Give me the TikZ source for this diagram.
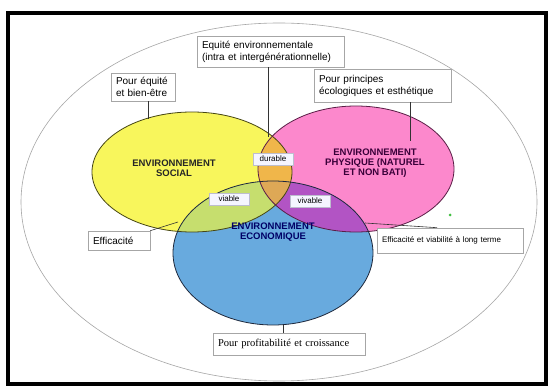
\documentclass[tikz,border=0pt]{standalone}
\usepackage{fontspec}
\setmainfont{Liberation Sans}
\newfontfamily\serifbox{Liberation Serif}
\usetikzlibrary{calc}

\definecolor{jaune}{RGB}{248,246,92}
\definecolor{rose}{RGB}{252,136,204}
\definecolor{bleu}{RGB}{104,170,222}
\definecolor{orangeI}{RGB}{240,182,74}
\definecolor{vertI}{RGB}{198,222,110}
\definecolor{violetI}{RGB}{178,84,196}
\definecolor{centreI}{RGB}{222,168,86}
\definecolor{bordS}{RGB}{70,70,20}
\definecolor{bordP}{RGB}{90,30,70}
\definecolor{bordE}{RGB}{30,40,60}

\newcommand\ensocial{(192,172) ellipse [x radius=100, y radius=60]}
\newcommand\enphys{(356,169) ellipse [x radius=98, y radius=63]}
\newcommand\eneco{(273,253) ellipse [x radius=100, y radius=72]}

\tikzset{
  boite/.style={draw=gray!70, fill=white, line width=0.6, inner xsep=5, inner ysep=3,
    align=left, font=\fontsize{10}{12}\selectfont},
  etiq/.style={draw=blue!15!gray!45, fill=blue!4, inner sep=1.5, minimum width=40,
    minimum height=12, font=\fontsize{8}{9}\selectfont},
  titre/.style={align=center, font=\fontsize{9.5}{10}\selectfont\bfseries},
  trait/.style={draw=black!80, line width=0.6},
}

\begin{document}
\begin{tikzpicture}[x=1pt,y=-1pt]
\useasboundingbox (0,0) rectangle (552,390);
\fill[white] (0,0) rectangle (552,390);
% cadre et grande ellipse
\draw[line width=4] (8,13) rectangle (546,384);
\draw[gray!70, line width=0.6] (279,202) ellipse [x radius=258, y radius=179];

% les trois environnements
\fill[jaune] \ensocial;
\fill[rose] \enphys;
\fill[bleu] \eneco;
\begin{scope}
  \clip \ensocial;
  \fill[orangeI] \enphys;
  \fill[vertI] \eneco;
\end{scope}
\begin{scope}
  \clip \enphys;
  \fill[violetI] \eneco;
\end{scope}
\begin{scope}
  \clip \ensocial;
  \clip \enphys;
  \fill[centreI] \eneco;
\end{scope}
\draw[bordS, line width=0.8] \ensocial;
\draw[bordP, line width=0.8] \enphys;
\draw[bordE, line width=0.8] \eneco;
\fill[green!50!gray] (450,215) circle [radius=1.5];

\node[titre, text=black!85] (social) at (174,168) {ENVIRONNEMENT\\SOCIAL};
\node[titre, text=violet!45!black] (physique) at (375,163)
  {ENVIRONNEMENT\\PHYSIQUE (NATUREL\\ET NON BATI)};
\node[titre, text=blue!40!black] (economique) at (273,232) {ENVIRONNEMENT\\ECONOMIQUE};

\node[etiq] (durable) at (273,159) {durable};
\node[etiq] (viable) at (229,199) {viable};
\node[etiq] (vivable) at (310,201) {vivable};

% boites
\node[boite, text width=137, minimum height=31] (equite) at (270.5,51.5)
  {Equité environnementale\\(intra et intergénérationnelle)};
\node[boite, text width=54, minimum height=28] (bienetre) at (143,87)
  {Pour équité\\et bien-être};
\node[boite, text width=127, minimum height=33] (principes) at (382.5,85.5)
  {Pour principes\\écologiques et esthétique};
\node[boite, text width=52, minimum height=19] (efficacite) at (119,240.5) {Efficacité};
\node[boite, text width=136, minimum height=25, font=\fontsize{8}{9}\selectfont]
  (longterme) at (450,240.5) {Efficacité et viabilité à long terme};
\node[boite, text width=142, minimum height=22, font=\serifbox\fontsize{10.5}{12}\selectfont]
  (profit) at (289,344) {Pour profitabilité et croissance};

% traits
\coordinate (cb) at (148,119);
\coordinate (ce) at (268,137);
\coordinate (cp) at (410,141);
\coordinate (cf) at (178,222);
\coordinate (cl) at (365,223);
\coordinate (cr) at (283,325);
\draw[trait] (cb |- bienetre.south) -- (cb);
\draw[trait] (ce |- equite.south) -- (ce);
\draw[trait] (cp |- principes.south) -- (cp);
\draw[trait] (efficacite.north east) -- (cf);
\draw[trait] (cl) -- ([xshift=-13]longterme.north);
\draw[trait] (cr) -- (cr |- profit.north);
\end{tikzpicture}
\end{document}
